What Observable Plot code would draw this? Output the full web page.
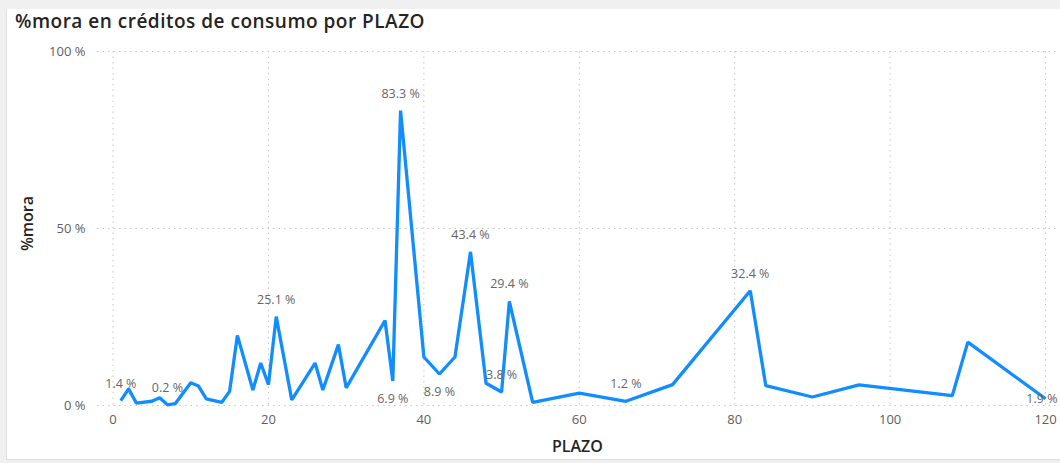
<!DOCTYPE html>
<html>
<head>
<meta charset="utf-8">
<script src="https://cdn.jsdelivr.net/npm/d3@7"></script>
<script src="https://cdn.jsdelivr.net/npm/@observablehq/plot@0.6"></script>
<style>
  html, body { margin: 0; padding: 0; background: #f0f0f0; }
  #card {
    position: absolute; left: 6px; top: 9px; width: 1054px; height: 450px;
    background: #ffffff; border-left: 1px solid #dedede; border-bottom: 1px solid #dedede;
  }
  #chart { position: absolute; left: 0; top: 0; width: 1060px; height: 463px; }
  #title {
    position: absolute; left: 15px; top: 8px;
    font-family: "Open Sans", "Noto Sans", sans-serif; font-size: 19px; font-weight: 600;
    letter-spacing: 0.5px; color: #252423; white-space: nowrap;
  }
  svg text { font-family: "Open Sans", "Noto Sans", sans-serif; }
</style>
</head>
<body>
<div id="card"></div>
<div id="chart"></div>
<div id="title">%mora en créditos de consumo por PLAZO</div>
<script>
// Plazo (months) and delinquency rate (%) per term
const plazo = [1, 2, 3, 5, 6, 7, 8, 10, 11, 12, 14, 15, 16, 18, 19, 20, 21, 23, 26, 27, 29, 30,
  35, 36, 37, 40, 42, 44, 46, 48, 50, 51, 54, 60, 66, 72, 82, 84, 90, 96, 108, 110, 120];
const mora = [1.4, 4.7, 0.7, 1.2, 2.2, 0.2, 0.5, 6.4, 5.5, 1.9, 0.9, 4.0, 19.8, 4.4, 12.0, 5.9, 25.1, 1.6, 12.0, 4.4, 17.2, 5.0,
  24.0, 6.9, 83.3, 13.7, 8.9, 13.7, 43.4, 6.3, 3.8, 29.4, 0.9, 3.5, 1.2, 5.9, 32.4, 5.6, 2.4, 5.8, 2.8, 17.9, 1.9];

// Terms whose value is written on the chart
const labelledPlazo = [1, 7, 21, 36, 37, 42, 46, 50, 51, 66, 82, 120];

const xTicks = [0, 20, 40, 60, 80, 100, 120];
const yTicks = [0, 50, 100];

const data = plazo.map((p, i) => ({plazo: p, mora: mora[i]}));
const fmt = v => v.toFixed(1) + " %";

const below = new Set([36, 42]);   // labels drawn under their point
const lastTerm = plazo[plazo.length - 1];
const labels = data.filter(d => labelledPlazo.includes(d.plazo));
const above = labels.filter(d => !below.has(d.plazo) && d.plazo !== lastTerm);
const under = labels.filter(d => below.has(d.plazo));
const edge = labels.filter(d => d.plazo === lastTerm);

const grid = {stroke: "#c8c6c4", strokeOpacity: 1, strokeWidth: 1, strokeDasharray: "1.5,4"};
const labelStyle = {fill: "#666666", fontSize: 12.5, text: d => fmt(d.mora)};

const chart = Plot.plot({
  width: 1060,
  height: 463,
  marginLeft: 97,
  marginRight: 3.3,
  marginTop: 51,
  marginBottom: 58,
  style: {background: "transparent", overflow: "visible"},
  x: {domain: [-2, 121.5]},
  y: {domain: [0, 100]},
  marks: [
    Plot.gridX(xTicks, grid),
    Plot.gridY(yTicks, grid),
    Plot.axisX({ticks: xTicks, tickSize: 0, tickPadding: 9, label: null, fontSize: 13, color: "#605e5c"}),
    Plot.axisY({ticks: yTicks, tickSize: 0, tickPadding: 12, label: null, fontSize: 13, color: "#605e5c",
      tickFormat: d => d + " %"}),
    Plot.line(data, {x: "plazo", y: "mora", stroke: "#118dff", strokeWidth: 3.3,
      strokeLinejoin: "miter", strokeLinecap: "butt"}),
    Plot.text(above, {x: "plazo", y: "mora", dy: -17, ...labelStyle}),
    Plot.text(under, {x: "plazo", y: "mora", dy: 18, ...labelStyle}),
    Plot.text(edge, {x: "plazo", y: "mora", dx: 12, textAnchor: "end", ...labelStyle}),
    Plot.text(["PLAZO"], {frameAnchor: "bottom", lineAnchor: "middle", textAnchor: "middle", dy: 41,
      fontSize: 16, fontWeight: 600, fill: "#252423"}),
    Plot.text(["%mora"], {frameAnchor: "left", textAnchor: "middle", lineAnchor: "middle", dx: -70, dy: -5,
      rotate: -90, fontSize: 16, fontWeight: 600, fill: "#252423"})
  ]
});
document.getElementById("chart").appendChild(chart);
// axis titles use a narrower face than the tick labels
chart.querySelectorAll("text").forEach(t => {
  const tx = t.textContent;
  if (tx === "PLAZO" || tx === "%mora") t.setAttribute("font-family", "Roboto");
});
</script>
</body>
</html>
